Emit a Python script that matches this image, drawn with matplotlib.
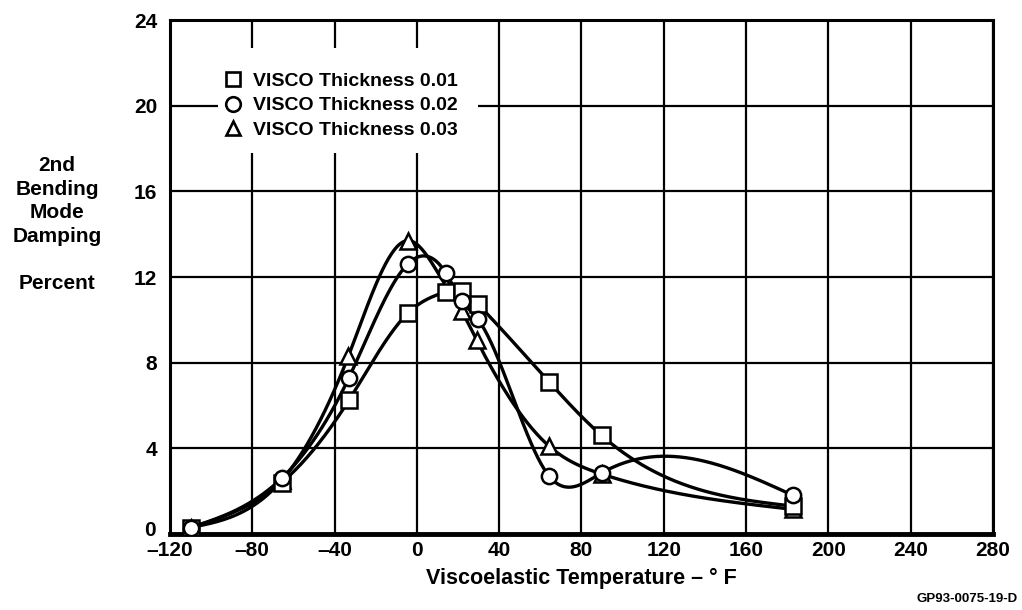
import numpy as np
import matplotlib
matplotlib.use('Agg')
import matplotlib.pyplot as plt
from matplotlib.lines import Line2D
from matplotlib.patches import Rectangle
from matplotlib.transforms import ScaledTranslation

plt.rcParams['font.family'] = ['Liberation Sans', 'DejaVu Sans']

# data (temperature in deg F, damping in percent)
t_001 = [-110, -65.7, -33, -4.5, 14, 21.8, 29.5, 64.3, 89.8, 182.9]
d_001 = [0.3, 2.4, 6.25, 10.3, 11.3, 11.35, 10.75, 7.1, 4.6, 1.3]
t_002 = [-110, -65.7, -33, -4.5, 14, 21.8, 29.5, 64.3, 89.8, 182.9]
d_002 = [0.3, 2.6, 7.3, 12.6, 12.2, 10.9, 10.05, 2.7, 2.85, 1.8]
t_003 = [-110, -65.7, -33.3, -4.5, 14, 21.8, 29.1, 64.3, 89.8, 182.9]
d_003 = [0.3, 2.5, 8.3, 13.7, 11.6, 10.4, 9.05, 4.1, 2.8, 1.15]
labels = ['VISCO Thickness 0.01', 'VISCO Thickness 0.02', 'VISCO Thickness 0.03']
x_ticks = [-120, -80, -40, 0, 40, 80, 120, 160, 200, 240, 280]
y_ticks = [0, 4, 8, 12, 16, 20, 24]


def smooth(x, y, n=400):
    # natural cubic spline through the points
    x = np.asarray(x, float)
    y = np.asarray(y, float)
    h = np.diff(x)
    m = len(x)
    A = np.zeros((m, m))
    b = np.zeros(m)
    A[0, 0] = A[-1, -1] = 1
    for i in range(1, m - 1):
        A[i, i - 1] = h[i - 1]
        A[i, i] = 2 * (h[i - 1] + h[i])
        A[i, i + 1] = h[i]
        b[i] = 6 * ((y[i + 1] - y[i]) / h[i] - (y[i] - y[i - 1]) / h[i - 1])
    M = np.linalg.solve(A, b)
    xs = np.linspace(x[0], x[-1], n)
    k = np.clip(np.searchsorted(x, xs) - 1, 0, m - 2)
    dx1 = x[k + 1] - xs
    dx0 = xs - x[k]
    hk = h[k]
    ys = (M[k] * dx1 ** 3 / (6 * hk) + M[k + 1] * dx0 ** 3 / (6 * hk)
          + (y[k] / hk - M[k] * hk / 6) * dx1 + (y[k + 1] / hk - M[k + 1] * hk / 6) * dx0)
    return xs, ys


fig = plt.figure(figsize=(10.22, 6.10), dpi=100)
ax = fig.add_axes([0.1663, 0.1246, 0.8053, 0.8426])

lw = 2.4
for tx, dy, mk, z in [(t_003, d_003, '^', 3), (t_001, d_001, 's', 4), (t_002, d_002, 'o', 5)]:
    xs, ys = smooth(tx, dy)
    ax.plot(xs, ys, color='black', lw=lw, zorder=2, solid_capstyle='round')
    ax.plot(tx, dy, linestyle='none', marker=mk, ms=11,
            mfc='white', mec='black', mew=1.8, zorder=z)

ax.set_xlim(-120, 280)
ax.set_ylim(0, 24)
ax.set_xticks(x_ticks)
ax.set_yticks(y_ticks)
ax.set_xticklabels([str(v).replace('-', '\u2013') for v in x_ticks])
ax.grid(True, color='black', lw=1.6)
ax.set_axisbelow(True)
ax.tick_params(length=0, labelsize=15)
ax.tick_params(axis='x', pad=5)
ax.tick_params(axis='y', pad=9)
for lab in ax.get_xticklabels() + ax.get_yticklabels():
    lab.set_fontweight('bold')
zero = ax.get_yticklabels()[0]
zero.set_transform(zero.get_transform() + ScaledTranslation(-1 / 72, 4 / 72, fig.dpi_scale_trans))
for s in ['left', 'top', 'right']:
    ax.spines[s].set_linewidth(2.2)
ax.spines['bottom'].set_linewidth(3.5)

# white panel behind the legend, cutting the grid
ax.add_patch(Rectangle((0.0583, 0.7412), 0.3159, 0.2043, transform=ax.transAxes,
                       facecolor='white', edgecolor='none', zorder=1.5))
handles = [Line2D([], [], linestyle='none', marker=m, ms=10.5, mfc='white', mec='black', mew=1.9)
           for m in ['s', 'o', '^']]
leg = ax.legend(handles, labels, loc='upper left', bbox_to_anchor=(0.0668, 0.898),
                frameon=False, handlelength=0.8, handletextpad=0.65, labelspacing=0.35,
                borderpad=0, borderaxespad=0, prop={'size': 14, 'weight': 'bold'})
leg.set_zorder(6)

fig.text(0.056, 0.632, '2nd\nBending\nMode\nDamping\n\nPercent', ha='center', va='center',
         fontsize=15, fontweight='bold', linespacing=1.3)
ax.set_xlabel('Viscoelastic Temperature \u2013 \u00b0 F', fontsize=15.5, fontweight='bold', labelpad=6)
fig.text(0.996, 0.008, 'GP93-0075-19-D', ha='right', va='bottom', fontsize=9.5, fontweight='bold')

fig.savefig('out.png', dpi=100)
